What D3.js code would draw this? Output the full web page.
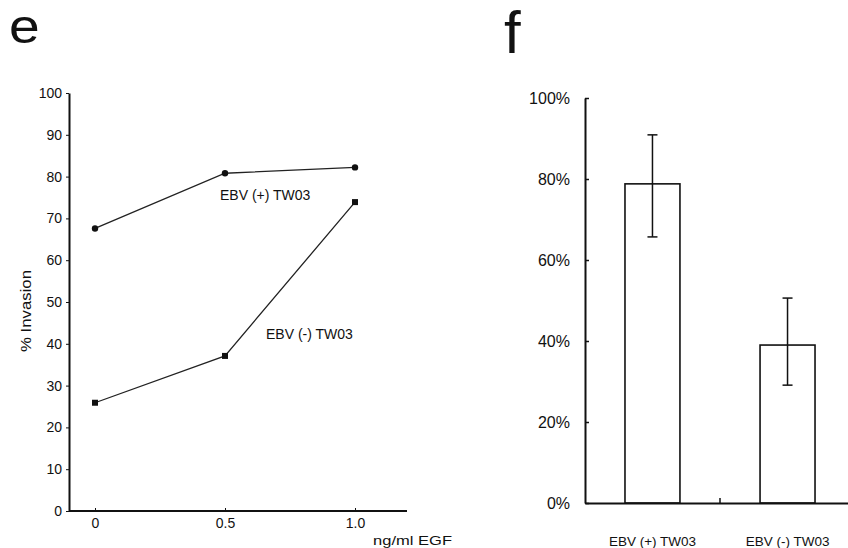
<!DOCTYPE html>
<html>
<head>
<meta charset="utf-8">
<script src="https://cdn.jsdelivr.net/npm/d3@7"></script>
<style>
  body { margin: 0; background: #fff; }
  text { font-family: "Liberation Sans", Arial, sans-serif; fill: #111; }
</style>
</head>
<body>
<div class="box"></div>
<script>
// DATA

// panel e : invasion vs EGF dose
const doses = [0, 0.5, 1.0];
const doseLabels = ['0', '0.5', '1.0'];
const ebvPos = [67.6, 80.8, 82.2];
const ebvNeg = [25.9, 37.1, 73.9];
const invasionTicks = [0, 10, 20, 30, 40, 50, 60, 70, 80, 90, 100];

// panel f : mean invasion with error bars
const groups = ['EBV (+) TW03', 'EBV (-) TW03'];
const means = [78.8, 39.0];
const errHigh = [90.9, 50.6];
const errLow = [65.7, 29.1];
const percentTicks = [0, 20, 40, 60, 80, 100];

// SETUP
const svg = d3.select('.box')
              .append('svg')
              .attr('width', 848)
              .attr('height', 548);

// panel letters
svg.append('text').text('e')
   .attr('transform', 'translate(9, 43) scale(1.15, 1)')
   .style('font-size', '48px');
svg.append('text').text('f')
   .attr('x', 504).attr('y', 53)
   .style('font-size', '60px');

// ---------- panel e ----------
const xE = d3.scaleLinear().domain([0, 1]).range([95, 355]);
const yE = d3.scaleLinear().domain([0, 100]).range([511, 93]);

const axisEx = svg.append('g')
                  .attr('transform', `translate(0, ${yE(0)})`)
                  .call(d3.axisBottom(xE)
                          .tickValues(doses)
                          .tickFormat((d, i) => doseLabels[i])
                          .tickSizeInner(-3)
                          .tickSizeOuter(0)
                          .tickPadding(7));
axisEx.select('.domain').attr('d', `M69,0H407`);

const axisEy = svg.append('g')
                  .attr('transform', 'translate(69, 0)')
                  .call(d3.axisLeft(yE)
                          .tickValues(invasionTicks)
                          .tickSizeInner(3)
                          .tickSizeOuter(0)
                          .tickPadding(4));

[axisEx, axisEy].forEach(g => {
  g.select('.domain').attr('stroke', '#111').attr('stroke-width', 2);
  g.selectAll('.tick line').attr('stroke', '#111');
  g.selectAll('.tick text').style('font-size', '14px').style('font-family', '"Liberation Sans", Arial, sans-serif').attr('fill', '#111');
});

const line = d3.line().x((d, i) => xE(doses[i])).y(d => yE(d));

svg.append('path').datum(ebvPos)
   .attr('d', line).attr('fill', 'none')
   .attr('stroke', '#222').attr('stroke-width', 1.3);
svg.append('path').datum(ebvNeg)
   .attr('d', line).attr('fill', 'none')
   .attr('stroke', '#222').attr('stroke-width', 1.3);

svg.selectAll('.dotPos').data(ebvPos).enter()
   .append('circle')
   .attr('cx', (d, i) => xE(doses[i]))
   .attr('cy', d => yE(d))
   .attr('r', 3.2)
   .attr('fill', '#111');

svg.selectAll('.dotNeg').data(ebvNeg).enter()
   .append('rect')
   .attr('x', (d, i) => xE(doses[i]) - 3)
   .attr('y', d => yE(d) - 3)
   .attr('width', 6).attr('height', 6)
   .attr('fill', '#111');

svg.append('text').text('EBV (+) TW03')
   .attr('x', 220).attr('y', 200)
   .style('font-size', '14px').attr('fill', '#222');
svg.append('text').text('EBV (-) TW03')
   .attr('x', 266).attr('y', 339)
   .style('font-size', '14px').attr('fill', '#222');

svg.append('text').text('% Invasion')
   .attr('transform', 'translate(31, 311) rotate(-90)')
   .attr('text-anchor', 'middle')
   .attr('textLength', 82).attr('lengthAdjust', 'spacingAndGlyphs')
   .style('font-size', '15px').attr('fill', '#222');

svg.append('text').text('ng/ml EGF')
   .attr('x', 373).attr('y', 545)
   .attr('textLength', 79).attr('lengthAdjust', 'spacingAndGlyphs')
   .style('font-size', '12px').attr('fill', '#222');

// ---------- panel f ----------
const xF = d3.scaleBand()
             .domain(groups)
             .range([585, 855])
             .paddingInner(0.593)
             .paddingOuter(0.296);
const yF = d3.scaleLinear().domain([0, 100]).range([503, 98]);

const axisFx = svg.append('g')
                  .attr('transform', `translate(0, ${yF(0)})`)
                  .call(d3.axisBottom(xF)
                          .tickSize(0)
                          .tickPadding(33));
const axisFy = svg.append('g')
                  .attr('transform', 'translate(585, 0)')
                  .call(d3.axisLeft(yF)
                          .tickValues(percentTicks)
                          .tickFormat(d => d + '%')
                          .tickSizeInner(-4)
                          .tickSizeOuter(0)
                          .tickPadding(15));

[axisFx, axisFy].forEach(g => {
  g.select('.domain').attr('stroke', '#111').attr('stroke-width', 2);
  g.selectAll('.tick line').attr('stroke', '#111').attr('stroke-width', 1.5);
  g.selectAll('.tick text').style('font-family', '"Liberation Sans", Arial, sans-serif').attr('fill', '#222');
});
axisFy.selectAll('.tick text').style('font-size', '16px');
axisFx.selectAll('.tick text').style('font-size', '13.5px');

// small tick between the two groups
const midF = (xF(groups[0]) + xF(groups[1]) + xF.bandwidth()) / 2;
svg.append('line')
   .attr('x1', midF).attr('x2', midF)
   .attr('y1', yF(0)).attr('y2', yF(0) - 5)
   .attr('stroke', '#111').attr('stroke-width', 1.5);

svg.selectAll('.bar').data(means).enter()
   .append('rect')
   .attr('x', (d, i) => xF(groups[i]))
   .attr('y', d => yF(d))
   .attr('width', xF.bandwidth())
   .attr('height', d => yF(0) - yF(d))
   .attr('fill', 'none')
   .attr('stroke', '#111')
   .attr('stroke-width', 1.6);

const errG = svg.selectAll('.err').data(means).enter().append('g');
errG.append('line')
    .attr('x1', (d, i) => xF(groups[i]) + xF.bandwidth() / 2)
    .attr('x2', (d, i) => xF(groups[i]) + xF.bandwidth() / 2)
    .attr('y1', (d, i) => yF(errHigh[i]))
    .attr('y2', (d, i) => yF(errLow[i]))
    .attr('stroke', '#111').attr('stroke-width', 1.5);
errG.append('line')
    .attr('x1', (d, i) => xF(groups[i]) + xF.bandwidth() / 2 - 5)
    .attr('x2', (d, i) => xF(groups[i]) + xF.bandwidth() / 2 + 5)
    .attr('y1', (d, i) => yF(errHigh[i]))
    .attr('y2', (d, i) => yF(errHigh[i]))
    .attr('stroke', '#111').attr('stroke-width', 1.5);
errG.append('line')
    .attr('x1', (d, i) => xF(groups[i]) + xF.bandwidth() / 2 - 5)
    .attr('x2', (d, i) => xF(groups[i]) + xF.bandwidth() / 2 + 5)
    .attr('y1', (d, i) => yF(errLow[i]))
    .attr('y2', (d, i) => yF(errLow[i]))
    .attr('stroke', '#111').attr('stroke-width', 1.5);
</script>
</body>
</html>
